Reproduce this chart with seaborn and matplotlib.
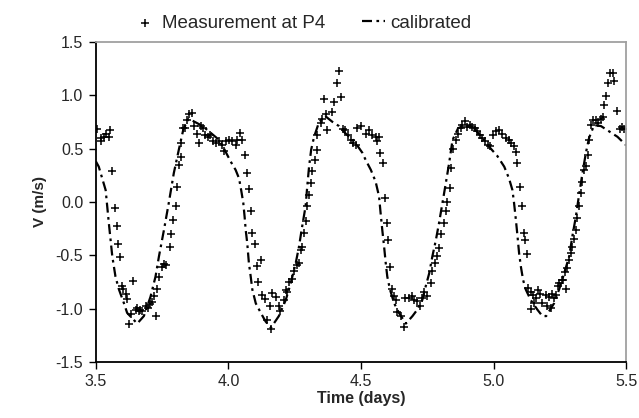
import seaborn as sns
import matplotlib.pyplot as plt
import pandas as pd

# Measured velocity at P4 (time in days, V in m/s)
meas_t = [3.503, 3.518, 3.520, 3.530, 3.540, 3.549, 3.553, 3.562, 3.571, 3.578,
          3.583, 3.591, 3.599, 3.603, 3.612, 3.617, 3.625, 3.631, 3.641, 3.650,
          3.656, 3.661, 3.667, 3.675, 3.688, 3.695, 3.703, 3.713, 3.718, 3.725,
          3.731, 3.738, 3.750, 3.756, 3.766, 3.779, 3.784, 3.792, 3.801, 3.807,
          3.813, 3.820, 3.822, 3.830, 3.838, 3.845, 3.851, 3.861, 3.870, 3.882,
          3.889, 3.895, 3.905, 3.913, 3.922, 3.932, 3.943, 3.952, 3.964, 3.977,
          3.983, 3.989, 4.002, 4.014, 4.027, 4.033, 4.043, 4.052, 4.061, 4.069,
          4.077, 4.084, 4.090, 4.099, 4.106, 4.111, 4.122, 4.128, 4.136, 4.144,
          4.157, 4.162, 4.165, 4.178, 4.190, 4.193, 4.209, 4.217, 4.222, 4.228,
          4.240, 4.247, 4.257, 4.266, 4.272, 4.279, 4.285, 4.291, 4.297, 4.304,
          4.310, 4.316, 4.325, 4.333, 4.335, 4.348, 4.352, 4.360, 4.367, 4.373,
          4.390, 4.398, 4.411, 4.417, 4.423, 4.433, 4.440, 4.452, 4.461, 4.471,
          4.480, 4.486, 4.501, 4.518, 4.530, 4.543, 4.555, 4.561, 4.568, 4.572,
          4.584, 4.591, 4.597, 4.602, 4.609, 4.616, 4.624, 4.631, 4.637, 4.649,
          4.662, 4.667, 4.680, 4.693, 4.699, 4.711, 4.724, 4.730, 4.739, 4.749,
          4.763, 4.769, 4.778, 4.785, 4.794, 4.803, 4.813, 4.820, 4.826, 4.836,
          4.841, 4.845, 4.857, 4.866, 4.876, 4.882, 4.891, 4.901, 4.911, 4.920,
          4.929, 4.939, 4.949, 4.958, 4.967, 4.977, 4.987, 4.996, 5.008, 5.021,
          5.033, 5.046, 5.058, 5.067, 5.077, 5.083, 5.090, 5.100, 5.106, 5.113,
          5.118, 5.125, 5.130, 5.140, 5.140, 5.150, 5.153, 5.159, 5.166, 5.176,
          5.181, 5.197, 5.203, 5.210, 5.216, 5.222, 5.228, 5.235, 5.241, 5.247,
          5.256, 5.263, 5.268, 5.272, 5.276, 5.285, 5.291, 5.297, 5.304, 5.310,
          5.316, 5.322, 5.329, 5.335, 5.341, 5.347, 5.354, 5.360, 5.369, 5.376,
          5.385, 5.394, 5.404, 5.414, 5.417, 5.423, 5.432, 5.440, 5.452, 5.455,
          5.465, 5.477, 5.485, 5.491]
meas_v = [0.68, 0.60, 0.57, 0.61, 0.64, 0.61, 0.67, 0.29, -0.06, -0.23,
          -0.39, -0.52, -0.79, -0.82, -0.86, -0.91, -1.14, -1.05, -0.74, -1.01,
          -0.99, -1.02, -1.01, -1.02, -0.98, -0.99, -0.96, -0.94, -0.88, -1.07,
          -0.82, -0.70, -0.61, -0.58, -0.59, -0.42, -0.30, -0.17, -0.04, 0.14,
          0.35, 0.42, 0.55, 0.69, 0.69, 0.77, 0.82, 0.83, 0.71, 0.64,
          0.55, 0.71, 0.69, 0.63, 0.61, 0.63, 0.57, 0.55, 0.57, 0.53,
          0.48, 0.57, 0.58, 0.57, 0.53, 0.58, 0.65, 0.58, 0.44, 0.27,
          0.12, -0.09, -0.29, -0.39, -0.60, -0.75, -0.54, -0.87, -0.91, -1.11,
          -0.98, -1.19, -0.85, -0.89, -0.98, -1.02, -0.92, -0.83, -0.84, -0.75,
          -0.72, -0.65, -0.59, -0.57, -0.45, -0.42, -0.29, -0.18, -0.04, 0.06,
          0.18, 0.29, 0.39, 0.49, 0.63, 0.74, 0.78, 0.96, 0.82, 0.67,
          0.84, 0.94, 1.11, 1.23, 0.98, 0.68, 0.67, 0.63, 0.58, 0.55,
          0.53, 0.69, 0.71, 0.64, 0.67, 0.63, 0.61, 0.57, 0.61, 0.46,
          0.36, 0.04, -0.20, -0.36, -0.61, -0.82, -0.88, -0.92, -1.03, -1.07,
          -1.17, -0.90, -0.90, -0.88, -0.92, -0.93, -0.98, -0.90, -0.84, -0.88,
          -0.76, -0.65, -0.57, -0.51, -0.43, -0.30, -0.20, -0.09, 0.00, 0.13,
          0.32, 0.50, 0.58, 0.64, 0.69, 0.72, 0.76, 0.70, 0.72, 0.70,
          0.69, 0.66, 0.63, 0.60, 0.57, 0.53, 0.52, 0.63, 0.66, 0.67,
          0.64, 0.60, 0.58, 0.55, 0.52, 0.47, 0.36, 0.14, -0.04, -0.29,
          -0.36, -0.49, -0.81, -0.84, -1.00, -0.87, -0.95, -0.90, -0.83, -0.86,
          -0.95, -0.87, -0.98, -0.89, -0.99, -0.86, -0.90, -0.87, -0.79, -0.76,
          -0.73, -0.73, -0.66, -0.82, -0.62, -0.54, -0.48, -0.42, -0.35, -0.26,
          -0.15, -0.04, 0.08, 0.19, 0.30, 0.34, 0.44, 0.58, 0.72, 0.77,
          0.77, 0.74, 0.78, 0.80, 0.91, 0.99, 1.11, 1.21, 1.21, 1.13,
          0.85, 0.68, 0.70, 0.68]

# Calibrated model
cal_t = [3.500, 3.511, 3.537, 3.549, 3.562, 3.574, 3.587, 3.606, 3.618, 3.656,
         3.681, 3.706, 3.725, 3.738, 3.757, 3.775, 3.794, 3.813, 3.830, 3.850,
         3.903, 3.965, 3.983, 4.008, 4.027, 4.040, 4.048, 4.056, 4.061, 4.065,
         4.071, 4.077, 4.084, 4.090, 4.103, 4.122, 4.140, 4.160, 4.190, 4.216,
         4.235, 4.254, 4.266, 4.278, 4.291, 4.297, 4.304, 4.312, 4.323, 4.342,
         4.367, 4.392, 4.417, 4.442, 4.474, 4.505, 4.518, 4.537, 4.555, 4.568,
         4.574, 4.580, 4.587, 4.593, 4.599, 4.609, 4.625, 4.643, 4.669, 4.694,
         4.712, 4.731, 4.744, 4.757, 4.769, 4.782, 4.794, 4.807, 4.820, 4.832,
         4.845, 4.866, 4.893, 4.926, 4.964, 4.989, 5.014, 5.040, 5.058, 5.071,
         5.077, 5.084, 5.090, 5.096, 5.103, 5.111, 5.121, 5.140, 5.165, 5.184,
         5.198, 5.228, 5.247, 5.266, 5.285, 5.297, 5.310, 5.323, 5.335, 5.348,
         5.360, 5.379, 5.405, 5.436, 5.467, 5.500]
cal_v = [0.38, 0.33, 0.11, -0.20, -0.51, -0.70, -0.82, -0.95, -1.04, -1.14,
         -1.07, -0.89, -0.70, -0.51, -0.26, -0.01, 0.27, 0.49, 0.68, 0.78,
         0.71, 0.58, 0.50, 0.38, 0.30, 0.22, 0.11, -0.01, -0.14, -0.26,
         -0.39, -0.57, -0.70, -0.82, -0.95, -1.04, -1.12, -1.18, -1.07, -0.92,
         -0.76, -0.57, -0.42, -0.23, -0.04, 0.14, 0.33, 0.49, 0.61, 0.75,
         0.80, 0.75, 0.71, 0.64, 0.57, 0.46, 0.39, 0.30, 0.19, 0.05,
         -0.11, -0.26, -0.42, -0.57, -0.70, -0.82, -0.95, -1.04, -1.14, -1.07,
         -1.01, -0.92, -0.79, -0.67, -0.51, -0.36, -0.20, -0.01, 0.18, 0.36,
         0.58, 0.69, 0.72, 0.69, 0.58, 0.50, 0.43, 0.33, 0.22, 0.11,
         -0.01, -0.17, -0.32, -0.48, -0.61, -0.73, -0.82, -0.92, -1.01, -1.07,
         -1.07, -0.95, -0.82, -0.67, -0.51, -0.32, -0.14, 0.08, 0.27, 0.46,
         0.60, 0.72, 0.71, 0.66, 0.61, 0.53]

x_ticks = [3.5, 4.0, 4.5, 5.0, 5.5]
y_ticks = [-1.5, -1.0, -0.5, 0.0, 0.5, 1.0, 1.5]

meas = pd.DataFrame({'t': meas_t, 'v': meas_v})
cal = pd.DataFrame({'t': cal_t, 'v': cal_v})

sns.set_style('white')
plt.rcParams['font.family'] = ['Liberation Sans', 'DejaVu Sans']

fig = plt.figure(figsize=(6.39, 4.18), dpi=100)
ax = fig.add_axes([0.150, 0.134, 0.830, 0.766])

sns.lineplot(data=cal, x='t', y='v', ax=ax, color='black', lw=1.6,
             sort=False, label='calibrated', dashes=False)
ax.lines[0].set_dashes([4.5, 2, 1.2, 2])
sns.scatterplot(data=meas, x='t', y='v', ax=ax, marker='+', color='black',
                s=28, linewidth=1.1, label='Measurement at P4')

ax.set_xlim(3.5, 5.5)
ax.set_ylim(-1.5, 1.5)
ax.set_xticks(x_ticks)
ax.set_xticklabels([f'{t:.1f}' for t in x_ticks], fontsize=11.5)
ax.set_yticks(y_ticks)
ax.set_yticklabels([f'{t:.1f}' for t in y_ticks], fontsize=11.5)
ax.tick_params(axis='both', direction='out', length=5, width=1, color='black',
               bottom=True, left=True, pad=4)
ax.set_xlabel('Time (days)', fontsize=11.5, fontweight='bold', labelpad=1)
ax.set_ylabel('V (m/s)', fontsize=11, fontweight='bold', labelpad=6)

for side in ['left', 'bottom']:
    ax.spines[side].set_color('black')
    ax.spines[side].set_linewidth(1.3)
for side in ['top', 'right']:
    ax.spines[side].set_color('#a0a0a0')
    ax.spines[side].set_linewidth(1.3)

handles, labels = ax.get_legend_handles_labels()
ax.legend_.remove()
fig.legend(handles[::-1], labels[::-1], loc='center left',
           bbox_to_anchor=(0.2097, 0.945), ncol=2, frameon=False, fontsize=13.5,
           handlelength=1.2, columnspacing=2.0, handletextpad=0.27,
           borderpad=0, borderaxespad=0)

fig.savefig('out.png', dpi=100)
